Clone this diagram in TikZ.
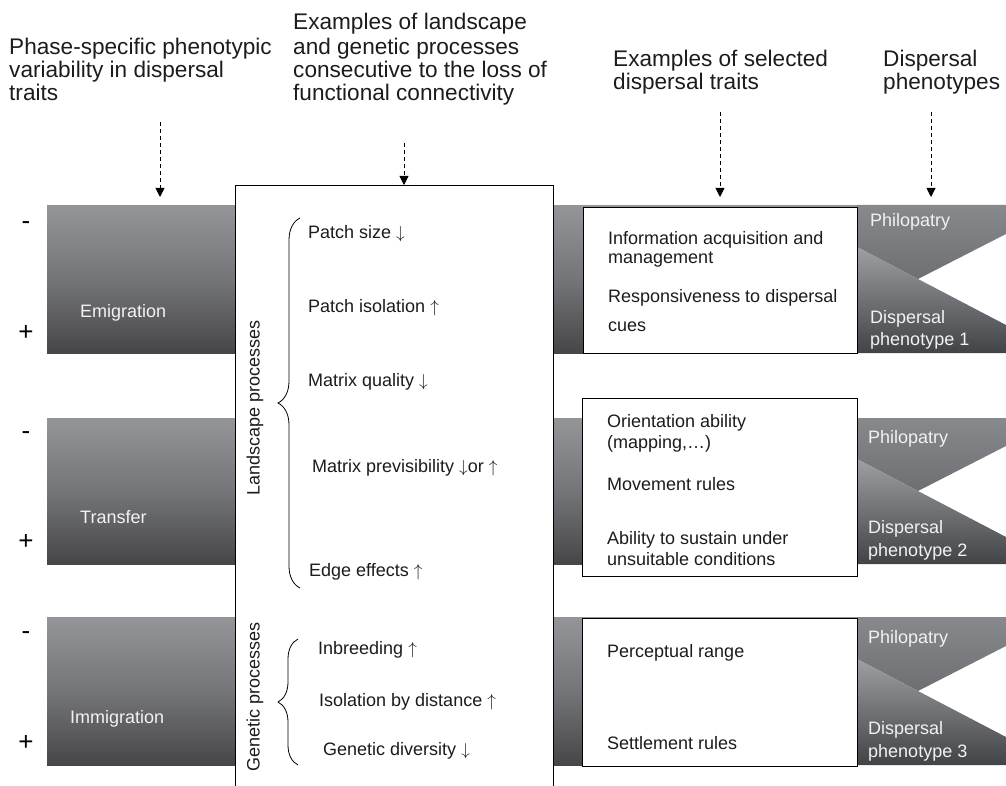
\documentclass[tikz,border=0pt]{standalone}
\usepackage{fontspec}
\setmainfont{Liberation Sans}
\usetikzlibrary{arrows.meta,decorations.pathreplacing}

\definecolor{bandtop}{RGB}{148,149,153}
\definecolor{bandmid}{RGB}{116,117,120}
\definecolor{bandbot}{RGB}{70,70,73}
\definecolor{uptop}{RGB}{136,137,140}
\definecolor{upbot}{RGB}{110,111,114}
\definecolor{lowtop}{RGB}{158,159,162}
\definecolor{lowbot}{RGB}{66,67,70}
\definecolor{txt}{RGB}{28,28,28}
\definecolor{labw}{RGB}{242,242,242}

\begin{document}
\begin{tikzpicture}[x=1pt,y=-1pt,
  hdr/.style={anchor=base west, inner sep=0pt, font=\fontsize{22.6}{25}\selectfont, text=txt},
  body/.style={anchor=base west, inner sep=0pt, font=\fontsize{18}{21}\selectfont, text=txt},
  bandlab/.style={anchor=base west, inner sep=0pt, font=\fontsize{18}{21}\selectfont, text=labw},
  sign/.style={anchor=center, inner sep=0pt, font=\fontsize{26}{26}\selectfont, text=black},
  band/.style={shading=axis, top color=bandtop, bottom color=bandbot, middle color=bandmid, draw=none, inner sep=0pt, anchor=north west},
  whitebox/.style={fill=white, draw=black, line width=0.8pt, inner sep=0pt, anchor=north west},
  dasharrow/.style={line width=0.9pt, dash pattern=on 4pt off 3pt, -{Triangle[length=9pt,width=9pt]}},
  brc/.style={decorate, line width=0.8pt},
]
\useasboundingbox (0,0) rectangle (1006,786);

% ---- bands ----
\node[band, minimum width=810pt, minimum height=148pt] (band1) at (47,205) {};
\node[band, minimum width=810pt, minimum height=146pt] (band2) at (47,418) {};
\node[band, minimum width=810pt, minimum height=148pt] (band3) at (47,617) {};

% ---- phenotype blocks ----
\foreach \T/\B/\c in {205/353/279, 418/564/491, 617/765/691}{
  \shade[top color=uptop, bottom color=upbot]
    (857,\T) -- (1006,\T) -- (1006,\c-45) -- (918,\c) -- (857,\c-32) -- cycle;
  \shade[top color=lowtop, bottom color=lowbot]
    (857,\c-32) -- (918,\c) -- (1006,\c+46) -- (1006,\B) -- (857,\B) -- cycle;
}

% ---- middle box (open at the bottom, runs off the page) ----
\node[whitebox, minimum width=318pt, minimum height=640pt] (mid) at (235,185) {};

% ---- trait boxes ----
\node[whitebox, minimum width=274pt, minimum height=146pt] (t1) at (583,207) {};
\node[whitebox, minimum width=275pt, minimum height=178pt] (t2) at (582,398) {};
\node[whitebox, minimum width=275pt, minimum height=148pt] (t3) at (582,618) {};

% ---- headers ----
\node[hdr] (h1a) at (9,55) {Phase-specific phenotypic};
\node[hdr] (h1b) at (9,78) {variability in dispersal};
\node[hdr] (h1c) at (9,101) {traits};
\node[hdr] (h2a) at (293,30) {Examples of landscape};
\node[hdr] (h2b) at (293,55) {and genetic processes};
\node[hdr] (h2c) at (293,78) {consecutive to the loss of};
\node[hdr] (h2d) at (293,101) {functional connectivity};
\node[hdr] (h3a) at (613,67) {Examples of selected};
\node[hdr] (h3b) at (613,90) {dispersal traits};
\node[hdr] (h4a) at (883,67) {Dispersal};
\node[hdr] (h4b) at (883,90) {phenotypes};

% ---- dashed arrows ----
\coordinate (a1s) at (160,122);
\coordinate (a1e) at (160,197);
\coordinate (a2s) at (404,143);
\coordinate (a3s) at (720,112);
\coordinate (a3e) at (720,197);
\coordinate (a4s) at (931,112);
\coordinate (a4e) at (931,197);
\draw[dasharrow] (a1s) -- (a1e);
\draw[dasharrow] (a2s) -- (a2s |- mid.north);
\draw[dasharrow] (a3s) -- (a3e);
\draw[dasharrow] (a4s) -- (a4e);

% ---- signs ----
\node[sign] (m1) at (26,226) {-};
\node[sign] (p1) at (26,333) {+};
\node[sign] (m2) at (26,436) {-};
\node[sign] (p2) at (26,542) {+};
\node[sign] (m3) at (26,636) {-};
\node[sign] (p3) at (26,743) {+};

% ---- band labels ----
\node[bandlab] (emi) at (80,317) {Emigration};
\node[bandlab] (tra) at (80,523) {Transfer};
\node[bandlab] (imm) at (70,723) {Immigration};

% ---- middle box content ----
\node[body, anchor=center, rotate=90] (lproc) at (255,408) {Landscape processes};
\node[body, anchor=center, rotate=90] (gproc) at (255,697) {Genetic processes};
\coordinate (lb1) at (300,588);
\coordinate (lb2) at (300,218);
\coordinate (gb1) at (298,765);
\coordinate (gb2) at (298,639);
\draw[brc, decoration={brace, amplitude=22pt}] (lb1) -- (lb2);
\draw[brc, decoration={brace, amplitude=20pt}] (gb1) -- (gb2);

\node[body] (ps) at (308,239) {Patch size $\downarrow$};
\node[body] (pi) at (308,312) {Patch isolation $\uparrow$};
\node[body] (mq) at (308,386) {Matrix quality $\downarrow$};
\node[body] (mp) at (312,472) {Matrix previsibility $\downarrow$or $\uparrow$};
\node[body] (ee) at (309,576) {Edge effects $\uparrow$};
\node[body] (ib) at (318,654) {Inbreeding $\uparrow$};
\node[body] (id) at (319,706) {Isolation by distance $\uparrow$};
\node[body] (gd) at (323,755) {Genetic diversity $\downarrow$};

% ---- trait texts ----
\node[body] (t1a) at (608,245) {Information acquisition and};
\node[body] (t1b) at (608,264) {management};
\node[body] (t1c) at (608,302) {Responsiveness to dispersal};
\node[body] (t1d) at (608,331) {cues};
\node[body] (t2a) at (607,427) {Orientation ability};
\node[body] (t2b) at (607,448) {(mapping,…)};
\node[body] (t2c) at (607,490) {Movement rules};
\node[body] (t2d) at (607,544) {Ability to sustain under};
\node[body] (t2e) at (607,565) {unsuitable conditions};
\node[body] (t3a) at (607,657) {Perceptual range};
\node[body] (t3b) at (607,749) {Settlement rules};

% ---- phenotype labels ----
\node[bandlab] (ph1) at (870,227) {Philopatry};
\node[bandlab] (d1a) at (870,323) {Dispersal};
\node[bandlab] (d1b) at (870,345) {phenotype 1};
\node[bandlab] (ph2) at (868,443) {Philopatry};
\node[bandlab] (d2a) at (868,533) {Dispersal};
\node[bandlab] (d2b) at (868,556) {phenotype 2};
\node[bandlab] (ph3) at (868,643) {Philopatry};
\node[bandlab] (d3a) at (868,734) {Dispersal};
\node[bandlab] (d3b) at (868,757) {phenotype 3};
\end{tikzpicture}
\end{document}
